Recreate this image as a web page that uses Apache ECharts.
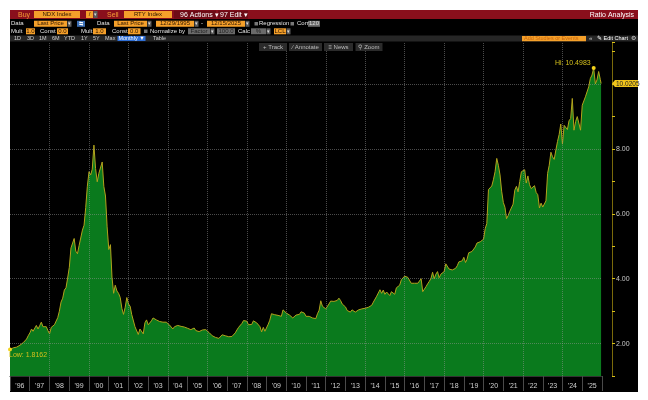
<!DOCTYPE html>
<html><head><meta charset="utf-8">
<script src="https://cdn.jsdelivr.net/npm/echarts@6/dist/echarts.min.js"></script>
<style>html,body{margin:0;padding:0;background:#fff}#c{width:648px;height:400px}</style>
</head><body><div id="c"></div><script>
// ---- data (NDX Index / RTY Index, monthly, last price) ----
const startDate = '1995-12-29';
const endDate = '2025-12-15';
const ratio1990s = [
  1.8162,
  1.84, 1.87, 1.86, 1.89, 1.93, 1.95, 1.97, 2.03, 2.08, 2.14, 2.24, 2.33,
  2.45, 2.38, 2.40, 2.56, 2.45, 2.55, 2.66, 2.52, 2.55, 2.52, 2.40, 2.30,
  2.50, 2.56, 2.58, 2.62, 2.80, 3.00, 3.28, 3.40, 3.65, 3.72, 4.02, 4.35,
  4.95, 4.90, 5.24, 4.85, 4.77, 5.02, 5.00, 5.50, 5.65, 6.20, 6.85, 7.30
];
const ratio2000s = [
  7.20, 7.38, 8.12, 7.40, 6.99, 7.25, 7.20, 7.60, 6.85, 6.55, 5.60, 4.90,
  5.05, 4.05, 3.55, 3.80, 3.62, 3.55, 3.42, 3.08, 2.90, 3.12, 3.42, 3.22,
  3.15, 2.90, 2.86, 2.52, 2.46, 2.28, 2.45, 2.40, 2.30, 2.64, 2.73, 2.58,
  2.62, 2.70, 2.79, 2.76, 2.73, 2.70, 2.68, 2.67, 2.66, 2.69, 2.66, 2.62,
  2.57, 2.52, 2.45, 2.52, 2.58, 2.56, 2.52, 2.53, 2.50, 2.51, 2.49, 2.47,
  2.44, 2.43, 2.46, 2.48, 2.40, 2.35, 2.37, 2.40, 2.42, 2.45, 2.43, 2.38,
  2.34, 2.28, 2.24, 2.21, 2.19, 2.17, 2.16, 2.22, 2.27, 2.26, 2.24, 2.22,
  2.21, 2.20, 2.22, 2.28, 2.33, 2.42, 2.50, 2.56, 2.62, 2.71, 2.67, 2.69,
  2.58, 2.58, 2.59, 2.70, 2.69, 2.64, 2.60, 2.52, 2.36, 2.50, 2.38, 2.44,
  2.60, 2.72, 2.92, 2.88, 2.89, 2.91, 2.87, 2.85, 2.84, 3.04, 3.00, 2.94
];
const ratio2010s = [
  2.89, 2.88, 2.87, 2.79, 2.82, 2.88, 2.85, 2.90, 2.98, 3.02, 2.94, 2.84,
  2.86, 2.84, 2.78, 2.79, 2.81, 2.77, 2.92, 3.03, 3.32, 3.15, 3.12, 3.07,
  3.12, 3.22, 3.31, 3.32, 3.30, 3.27, 3.33, 3.40, 3.33, 3.22, 3.24, 3.13,
  3.02, 3.00, 2.97, 3.04, 3.02, 2.97, 2.96, 3.04, 3.02, 3.07, 3.08, 3.09,
  3.11, 3.12, 3.08, 3.18, 3.28, 3.24, 3.46, 3.48, 3.66, 3.55, 3.65, 3.52,
  3.59, 3.62, 3.48, 3.60, 3.62, 3.52, 3.72, 3.70, 3.80, 3.97, 3.92, 4.08,
  4.10, 4.04, 3.98, 3.86, 3.90, 3.86, 3.88, 3.86, 3.92, 4.00, 3.60, 3.62,
  3.76, 3.84, 3.92, 4.00, 4.20, 4.00, 4.14, 4.22, 4.03, 4.14, 4.10, 4.22,
  4.46, 4.50, 4.30, 4.28, 4.27, 4.26, 4.32, 4.40, 4.52, 4.58, 4.55, 4.66,
  4.50, 4.60, 4.80, 4.86, 4.84, 4.90, 4.98, 5.10, 5.05, 5.14, 5.17, 5.22
];
const ratio2020s = [
  5.55, 5.70, 6.75, 6.80, 6.86, 7.05, 7.30, 7.71, 7.50, 7.20, 6.70, 6.35,
  6.20, 5.85, 5.95, 6.08, 6.05, 6.30, 6.73, 6.85, 6.68, 7.00, 7.30, 7.25,
  7.36, 6.95, 7.17, 6.90, 6.78, 6.74, 6.87, 6.66, 6.59, 6.18, 6.33, 6.21,
  6.26, 6.40, 7.25, 7.50, 7.90, 7.76, 7.68, 7.97, 8.23, 8.45, 8.77, 8.15,
  8.73, 8.68, 8.60, 8.87, 8.94, 9.56, 8.58, 8.85, 9.00, 9.05, 8.58, 9.35,
  9.40, 9.61, 9.58, 9.92, 10.18, 10.28, 10.4983, 10.01, 10.13, 10.39, 10.15, 10.0205
];
const yearLabels = ["'96","'97","'98","'99","'00","'01","'02","'03","'04","'05",
  "'06","'07","'08","'09","'10","'11","'12","'13","'14","'15",
  "'16","'17","'18","'19","'20","'21","'22","'23","'24","'25"];
const yTicks = [2, 4, 6, 8, 10];
const gridYears = [1998, 2000, 2002, 2004, 2006, 2008, 2010, 2012, 2014, 2016, 2018, 2020, 2022, 2024];
const yMin = 1, yMax = 11.3, yStep = 1;

// ---- build series ----
const values = [].concat(ratio1990s, ratio2000s, ratio2010s, ratio2020s);
const dates = [Date.parse(startDate)];
for (let i = 1; i < values.length - 1; i++) {
  const y = 1996 + Math.floor((i - 1) / 12), m = (i - 1) % 12;
  dates.push(Date.UTC(y, m + 1, 0));
}
dates.push(Date.parse(endDate));
const seriesData = dates.map((d, i) => [d, values[i]]);
const hi = Math.max.apply(null, values), lo = Math.min.apply(null, values);
const hiIdx = values.indexOf(hi), loIdx = values.indexOf(lo);
const last = values[values.length - 1];

const FONT = 'Liberation Sans, Arial, sans-serif';
const chart = echarts.init(document.getElementById('c'), null, {renderer: 'canvas'});

chart.setOption({
  animation: false,
  backgroundColor: '#ffffff',
  grid: {left: 10, right: 46, top: 42, bottom: 24, containLabel: false},
  xAxis: [
    {type: 'time', min: dates[0], max: Date.UTC(2026, 0, 1), show: false},
    {type: 'category', data: yearLabels, boundaryGap: true, position: 'bottom',
     axisLine: {show: true, lineStyle: {color: '#333'}},
     axisTick: {show: true, interval: 0, length: 15, lineStyle: {color: '#4a4a4a'}},
     axisLabel: {interval: 0, color: '#d0d0d0', fontSize: 7, margin: 7, fontFamily: FONT},
     splitLine: {show: false}}
  ],
  yAxis: {
    type: 'value', position: 'right', offset: 10, min: yMin, max: yMax, interval: yStep,
    axisLine: {show: true, lineStyle: {color: '#7a6a0a', width: 1}},
    axisTick: {show: true, length: 3, lineStyle: {color: '#d8bf18', width: 1}},
    axisLabel: {color: '#c8c8c8', fontSize: 7, margin: 4, fontFamily: FONT,
      formatter: v => yTicks.indexOf(v) >= 0 ? v.toFixed(2) : ''},
    splitLine: {show: false}
  },
  series: [{
    type: 'line', xAxisIndex: 0, yAxisIndex: 0, data: seriesData,
    showSymbol: false, symbol: 'none', silent: true,
    emphasis: {disabled: true},
    lineStyle: {color: '#b2a21c', width: 1},
    areaStyle: {color: '#0a7a1d', opacity: 1, origin: 'start'},
    markLine: {
      silent: true, symbol: ['none', 'none'], animation: false,
      label: {show: false},
      lineStyle: {type: 'dotted', color: 'rgba(150,150,150,0.5)', width: 1},
      data: yTicks.map(v => ({yAxis: v})).concat(gridYears.map(y => ({xAxis: Date.UTC(y, 0, 1)})))
    },
    markPoint: {
      silent: true, animation: false,
      data: [
        {coord: [dates[hiIdx], hi], symbol: 'circle', symbolSize: 4,
         itemStyle: {color: '#f2d21b'},
         label: {show: true, formatter: 'Hi: ' + hi.toFixed(4), position: 'left', distance: 1,
                 offset: [0, -5], color: '#d4c01c', fontSize: 7, fontFamily: FONT}},
        {coord: [dates[loIdx], lo], symbol: 'circle', symbolSize: 4,
         itemStyle: {color: '#f2d21b'},
         label: {show: true, formatter: 'Low: ' + lo.toFixed(4), position: [1, 4],
                 color: '#d4c01c', fontSize: 7, fontFamily: FONT}}
      ]
    }
  }]
});

// ---- terminal chrome (graphic) ----
const G = [];
function rect(x, y, w, h, fill, z) { G.push({type: 'rect', z: z == null ? 50 : z, silent: true, shape: {x, y, width: w, height: h}, style: {fill}}); }
function txt(x, y, t, color, size, align, weight) {
  G.push({type: 'text', z: 60, silent: true, x, y,
    style: {text: t, fill: color, fontSize: size || 7, fontFamily: FONT, fontWeight: weight || 'normal',
            textAlign: align || 'left', textVerticalAlign: 'middle'}});
}
const OR = '#f5a02a', DK = '#2a1400', LT = '#e4e4e4', GR = '#6a6a6a';
function field(x, y, w, h, t, fill, tc, dd) {
  rect(x, y, w, h, fill);
  txt(x + w / 2, y + h / 2, t, tc, 6, 'center');
  if (dd) { rect(x + w + 0.5, y, 4, h, '#5a5a5a'); txt(x + w + 2.5, y + h / 2, '▾', '#ddd', 5, 'center'); }
}
// frame background
rect(10, 10, 628, 382, '#000000', -100);
// red title bar
rect(10, 10, 628, 9, '#8a0f1c');
txt(18, 14.6, 'Buy', '#f39c34', 7);
field(34, 11, 46, 7, 'NDX Index', OR, DK, false);
field(86, 11, 7, 7, '/', OR, DK, true);
txt(107, 14.6, 'Sell', '#f39c34', 7);
field(124, 11, 48, 7, 'RTY Index', OR, DK, false);
rect(174, 10.5, 42, 8, '#6e0b16');
txt(180, 14.6, '96 Actions ▾', '#ffffff', 7);
rect(218, 10.5, 30, 8, '#6e0b16');
txt(220, 14.6, '97 Edit ▾', '#ffffff', 7);
txt(634, 14.6, 'Ratio Analysis', '#ffffff', 7, 'right');
// row 2
const r2 = 20.8, rh = 6;
txt(11, r2 + 3, 'Data', LT, 6);
field(34, r2, 33, rh, 'Last Price', OR, DK, true);
rect(77, r2, 8, rh, '#3b6fb6'); txt(81, r2 + 3, '⇆', '#fff', 5, 'center');
txt(97, r2 + 3, 'Data', LT, 6);
field(114, r2, 33, rh, 'Last Price', OR, DK, true);
field(156, r2, 38, rh, '12/29/1995', OR, DK, true);
txt(201, r2 + 3, '-', LT, 6);
field(207, r2, 38, rh, '12/15/2025', OR, DK, true);
rect(254.5, r2 + 1.2, 3.5, 3.5, '#777'); txt(259, r2 + 3, 'Regression', LT, 6);
rect(290.5, r2 + 1.2, 3.5, 3.5, '#777'); txt(297, r2 + 3, 'Corr', LT, 6);
field(308, r2, 12, rh, '120', GR, '#ddd', false);
// row 3
const r3 = 28.3;
txt(11, r3 + 3, 'Mult', LT, 6);
field(26, r3, 9, rh, '1.0', OR, DK, false);
txt(40, r3 + 3, 'Const', LT, 6);
field(57, r3, 11, rh, '0.0', OR, DK, false);
txt(81, r3 + 3, 'Mult', LT, 6);
field(93, r3, 13, rh, '1.0', OR, DK, false);
txt(112, r3 + 3, 'Const', LT, 6);
field(128, r3, 12.5, rh, '0.0', OR, DK, false);
rect(144, r3 + 1.2, 3.5, 3.5, '#777'); txt(150, r3 + 3, 'Normalize by', LT, 6);
field(188, r3, 22, rh, 'Factor', GR, '#222', true);
field(217, r3, 18, rh, '100.0', GR, '#222', false);
txt(238, r3 + 3, 'Calc', LT, 6);
field(251, r3, 15, rh, '%', GR, '#222', true);
field(274, r3, 12, rh, 'LCL', OR, DK, true);
// row 4
rect(10, 35.5, 628, 6, '#262626');
const r4 = 38.6;
[['1D', 14], ['3D', 27], ['1M', 39], ['6M', 52], ['YTD', 64], ['1Y', 81], ['5Y', 93], ['Max', 105]].forEach(p => txt(p[1], r4, p[0], '#cfcfcf', 5.5));
rect(117.5, 36, 28, 5, '#2f6fd6'); txt(131.5, r4, 'Monthly ▼', '#ffffff', 5.5, 'center');
txt(153, r4, 'Table', '#cfcfcf', 5.5);
rect(522, 36, 64, 5.2, OR); txt(524, r4, 'Add Studies or Events', '#c8670e', 5.5);
txt(589, r4, '«', '#cfcfcf', 6);
txt(597, r4, '✎ Edit Chart', '#ffffff', 5.5);
txt(633, r4, '⚙', '#cfcfcf', 6, 'center');
// buttons over plot
[['+ Track', 259, 28], ['⁄ Annotate', 289, 33], ['≡ News', 324, 29], ['⚲ Zoom', 355.5, 27]].forEach(b => {
  rect(b[1], 43, b[2], 8, '#2b2b2b');
  txt(b[1] + b[2] / 2, 47, b[0], '#bdbdbd', 6, 'center');
});
// last value tag on the y axis
const yLast = chart.convertToPixel({yAxisIndex: 0}, last);
G.push({type: 'polygon', z: 55, silent: true,
  shape: {points: [[612, yLast], [615, yLast - 3.6], [638, yLast - 3.6], [638, yLast + 3.6], [615, yLast + 3.6]]},
  style: {fill: '#f0c41b'}});
txt(616, yLast + 0.3, last.toFixed(4), '#222222', 6.5);

chart.setOption({graphic: G});
</script></body></html>
